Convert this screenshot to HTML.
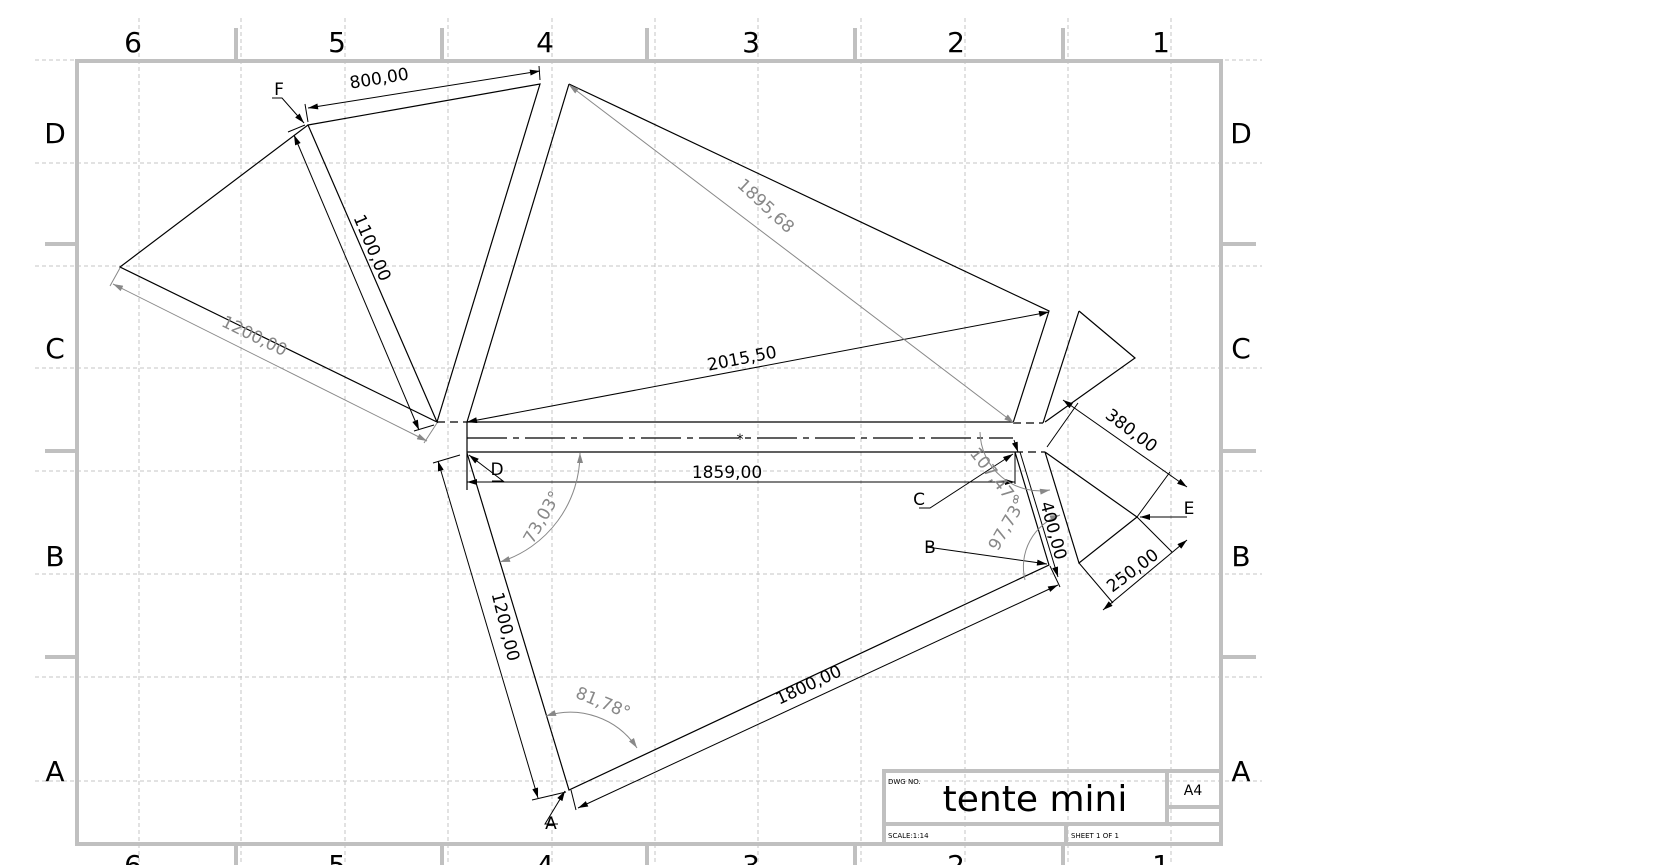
<!DOCTYPE html>
<html><head><meta charset="utf-8"><style>html,body{margin:0;padding:0;background:#fff}svg{display:block}text{font-family:"DejaVu Sans","Liberation Sans",sans-serif}</style></head>
<body>
<svg width="1668" height="865" viewBox="0 0 1668 865" xmlns="http://www.w3.org/2000/svg">
<defs>
<marker id="a" viewBox="0 0 10 6" refX="10" refY="3" markerWidth="14" markerHeight="6" markerUnits="userSpaceOnUse" orient="auto-start-reverse"><path d="M0,0L10,3L0,6z" fill="#000"/></marker>
<marker id="g" viewBox="0 0 10 6" refX="10" refY="3" markerWidth="14" markerHeight="6" markerUnits="userSpaceOnUse" orient="auto-start-reverse"><path d="M0,0L10,3L0,6z" fill="#888"/></marker>
</defs>
<g stroke="#c4c4c4" stroke-width="1" stroke-dasharray="4,3">
<line x1="139" y1="18" x2="139" y2="865"/><line x1="241" y1="18" x2="241" y2="865"/><line x1="345" y1="18" x2="345" y2="865"/><line x1="448" y1="18" x2="448" y2="865"/><line x1="552" y1="18" x2="552" y2="865"/><line x1="655" y1="18" x2="655" y2="865"/><line x1="758" y1="18" x2="758" y2="865"/><line x1="861" y1="18" x2="861" y2="865"/><line x1="965" y1="18" x2="965" y2="865"/><line x1="1068" y1="18" x2="1068" y2="865"/><line x1="1171" y1="18" x2="1171" y2="865"/>
<line x1="35" y1="60" x2="1262" y2="60"/><line x1="35" y1="163" x2="1262" y2="163"/><line x1="35" y1="266" x2="1262" y2="266"/><line x1="35" y1="368" x2="1262" y2="368"/><line x1="35" y1="471" x2="1262" y2="471"/><line x1="35" y1="574" x2="1262" y2="574"/><line x1="35" y1="677" x2="1262" y2="677"/><line x1="35" y1="781" x2="1262" y2="781"/>
</g>
<g stroke="#c0c0c0" stroke-width="4" fill="none">
<rect x="77" y="61" width="1144" height="783"/>
<line x1="236" y1="28" x2="236" y2="61"/><line x1="442" y1="28" x2="442" y2="61"/><line x1="647" y1="28" x2="647" y2="61"/><line x1="855" y1="28" x2="855" y2="61"/><line x1="1063" y1="28" x2="1063" y2="61"/>
<line x1="236" y1="844" x2="236" y2="865"/><line x1="442" y1="844" x2="442" y2="865"/><line x1="647" y1="844" x2="647" y2="865"/><line x1="855" y1="844" x2="855" y2="865"/><line x1="1063" y1="844" x2="1063" y2="865"/>
<line x1="45" y1="244" x2="77" y2="244"/><line x1="45" y1="451" x2="77" y2="451"/><line x1="45" y1="657" x2="77" y2="657"/>
<line x1="1221" y1="244" x2="1256" y2="244"/><line x1="1221" y1="451" x2="1256" y2="451"/><line x1="1221" y1="657" x2="1256" y2="657"/>
<rect x="884" y="771" width="337" height="73"/>
<line x1="884" y1="824" x2="1221" y2="824"/><line x1="1167" y1="771" x2="1167" y2="824"/><line x1="1167" y1="807" x2="1221" y2="807"/><line x1="1066" y1="824" x2="1066" y2="844"/>
</g>
<g font-size="28" fill="#000" text-anchor="middle" font-family="Liberation Sans">
<text x="133" y="52">6</text><text x="337" y="52">5</text><text x="545" y="52">4</text><text x="751" y="52">3</text><text x="956" y="52">2</text><text x="1161" y="52">1</text>
<text x="133" y="875">6</text><text x="337" y="875">5</text><text x="545" y="875">4</text><text x="751" y="875">3</text><text x="956" y="875">2</text><text x="1161" y="875">1</text>
<text x="55" y="143">D</text><text x="55" y="358">C</text><text x="55" y="566">B</text><text x="55" y="781">A</text>
<text x="1241" y="143">D</text><text x="1241" y="358">C</text><text x="1241" y="566">B</text><text x="1241" y="781">A</text>
</g>
<text x="888" y="784" font-size="7">DWG NO.</text>
<text x="1035" y="811" font-size="36" text-anchor="middle" font-family="Liberation Sans">tente mini</text>
<text x="1193" y="795" font-size="14" text-anchor="middle">A4</text>
<text x="888" y="838" font-size="7">SCALE:1:14</text>
<text x="1071" y="838" font-size="7">SHEET 1 OF 1</text>
<g stroke="#000" stroke-width="1.2" fill="none">
<path d="M308,125L120,267L437,422L308,125L540,84L437,422"/>
<path d="M569,84L467,422M569,84L1049,311L1013,423M1079,311L1043,423"/>
<path d="M1079,311L1135,358L1045,422"/>
<line x1="467" y1="422" x2="1013" y2="422"/>
<line x1="467" y1="452" x2="1015" y2="452"/>
<path d="M437,422H467M1013,423H1043M1015,452H1045" stroke-dasharray="8,5"/>
<line x1="467" y1="438" x2="1013" y2="438" stroke-dasharray="40,6,6,6"/>
<path d="M1045,452L1137,517L1079,563L1045,452"/>
<path d="M467,453L569,790L1049,565L1015,452"/>
<line x1="467" y1="422" x2="467" y2="490"/>
</g>
<text x="740" y="444" font-size="14" text-anchor="middle">*</text>
<g stroke="#000" stroke-width="1" fill="none">
<line x1="308" y1="108" x2="540" y2="71" marker-start="url(#a)" marker-end="url(#a)"/>
<path d="M305,104L308,122M539,66L540,80"/>
<line x1="294" y1="135" x2="419" y2="430" marker-start="url(#a)" marker-end="url(#a)"/>
<path d="M288,132L305,125M414,431L434,425"/>
<path d="M272,98H282L304,123" marker-end="url(#a)"/>
<line x1="467" y1="422" x2="1049" y2="312" marker-start="url(#a)" marker-end="url(#a)"/>
<line x1="467" y1="482" x2="1015" y2="482" marker-start="url(#a)" marker-end="url(#a)"/>
<line x1="1015" y1="452" x2="1015" y2="484"/>
<line x1="438" y1="461" x2="538" y2="798" marker-start="url(#a)" marker-end="url(#a)"/>
<path d="M433,463L460,455M532,800L566,792"/>
<line x1="578" y1="808" x2="1058" y2="585" marker-start="url(#a)" marker-end="url(#a)"/>
<path d="M571,790L576,810M1050,566L1060,587"/>
<line x1="1020" y1="452" x2="1058" y2="577" marker-end="url(#a)"/>
<line x1="1014" y1="440" x2="1018" y2="452" marker-end="url(#a)"/>
<line x1="1063" y1="400" x2="1187" y2="487" marker-start="url(#a)" marker-end="url(#a)"/>
<path d="M1047,447L1078,403M1137,517L1170,472"/>
<line x1="1187" y1="540" x2="1103" y2="610" marker-start="url(#a)" marker-end="url(#a)"/>
<path d="M1137,517L1172,552M1079,563L1113,603"/>
<path d="M1187,517H1140" marker-end="url(#a)"/>
<path d="M919,508H930L1013,454" marker-end="url(#a)"/>
<path d="M927,547L1047,564" marker-end="url(#a)"/>
<path d="M492,481H503L469,455" marker-end="url(#a)"/>
<path d="M558,824H545L565,791" marker-end="url(#a)"/>
</g>
<g stroke="#888" stroke-width="1" fill="none">
<line x1="113" y1="284" x2="427" y2="441" marker-start="url(#g)" marker-end="url(#g)"/>
<path d="M110,286L120,268M424,443L437,423"/>
<line x1="569" y1="85" x2="1014" y2="423" marker-start="url(#g)" marker-end="url(#g)"/>
<path d="M580,453A114,114 0 0 1 500,562" marker-start="url(#g)" marker-end="url(#g)"/>
<path d="M546,716A80,80 0 0 1 637,748" marker-start="url(#g)" marker-end="url(#g)"/>
<path d="M980,432A60,60 0 0 0 1050,490" marker-end="url(#g)"/>
<path d="M1060,515A55,55 0 0 0 1025,580" marker-start="url(#g)"/>
</g>
<g font-size="17" text-anchor="middle" font-family="Liberation Sans">
<text transform="translate(380,84) rotate(-9)">800,00</text>
<text transform="translate(367,250) rotate(67)">1100,00</text>
<text transform="translate(252,341) rotate(26)" fill="#888">1200,00</text>
<text transform="translate(762,210) rotate(43)" fill="#888">1895,68</text>
<text transform="translate(743,364) rotate(-11)">2015,50</text>
<text x="727" y="478">1859,00</text>
<text transform="translate(500,628) rotate(76)">1200,00</text>
<text transform="translate(811,690) rotate(-25)">1800,00</text>
<text transform="translate(1048,532) rotate(75)">400,00</text>
<text transform="translate(1128,435) rotate(37)">380,00</text>
<text transform="translate(1136,575) rotate(-37)">250,00</text>
<text transform="translate(547,520) rotate(-60)" fill="#888">73,03°</text>
<text transform="translate(601,708) rotate(22)" fill="#888">81,78°</text>
<text transform="translate(1012,527) rotate(-60)" fill="#888">97,73°</text>
<text transform="translate(990,480) rotate(52)" fill="#888">107,47°</text>
<text x="279" y="95">F</text>
<text x="497" y="475">D</text>
<text x="919" y="505">C</text>
<text x="930" y="553">B</text>
<text x="1189" y="514">E</text>
<text x="551" y="829">A</text>
</g>
</svg>
</body></html>
